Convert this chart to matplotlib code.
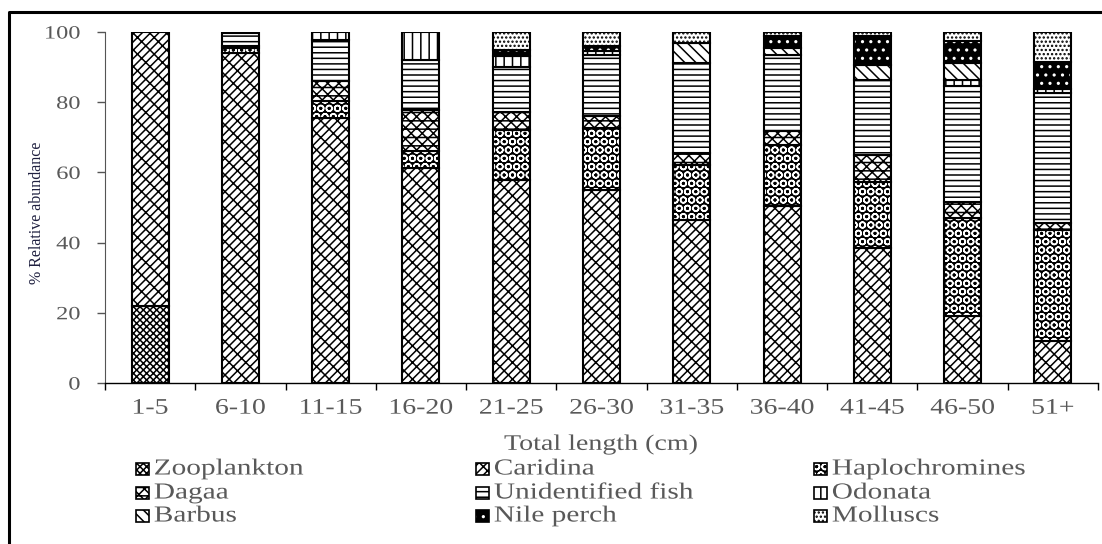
import numpy as np
import matplotlib
matplotlib.use("Agg")
import matplotlib.pyplot as plt
import matplotlib.patches as mpatches
from matplotlib.lines import Line2D
from matplotlib.patheffects import AbstractPathEffect
from matplotlib.transforms import Affine2D

# ---- data (% relative abundance) ----
lengths = ["1-5", "6-10", "11-15", "16-20", "21-25", "26-30",
           "31-35", "36-40", "41-45", "46-50", "51+"]

zooplankton    = [22.0, 0, 0, 0, 0, 0, 0, 0, 0, 0, 0]
caridina       = [78.0, 94.0, 75.5, 61.3, 57.9, 55.1, 46.5, 50.3, 38.5, 19.0, 11.9]
haplochromines = [0, 1.5, 4.7, 4.7, 14.3, 17.5, 15.7, 17.6, 18.9, 28.0, 31.8]
dagaa          = [0, 0.5, 5.7, 11.9, 4.9, 3.4, 3.3, 3.8, 7.6, 4.7, 1.9]
unidentified   = [0, 3.7, 11.9, 14.2, 12.9, 17.5, 25.7, 21.8, 21.4, 32.8, 36.9]
odonata        = [0, 0, 2.2, 7.9, 3.3, 1.2, 0, 0, 0, 1.9, 1.4]
barbus         = [0, 0, 0, 0, 0, 0, 5.7, 1.9, 4.3, 4.8, 0]
nile_perch     = [0, 0, 0, 0, 1.5, 1.2, 0, 3.4, 8.1, 6.1, 7.6]
molluscs       = [0, 0, 0, 0, 5.2, 4.1, 3.1, 1.2, 1.2, 2.7, 8.5]

species = ["Zooplankton", "Caridina", "Haplochromines", "Dagaa",
           "Unidentified fish", "Odonata", "Barbus", "Nile perch", "Molluscs"]
series = [zooplankton, caridina, haplochromines, dagaa, unidentified,
          odonata, barbus, nile_perch, molluscs]

# face colour, hatch colour, hatch
styles = [("white", "black", "xxxxx"),
          ("white", "black", "////\\\\"),
          ("black", "white", "OO"),
          ("white", "black", "--xxx"),
          ("white", "black", "---"),
          ("white", "black", "||"),
          ("white", "black", "\\\\\\"),
          ("black", "white", ".."),
          ("white", "black", "....")]


# the original is stretched sideways, so widen the glyphs a bit
class Wide(AbstractPathEffect):
    def __init__(self, sx=1.28, anchor="center"):
        super().__init__()
        self.sx = sx
        self.anchor = anchor

    def draw_path(self, renderer, gc, tpath, affine, rgbFace=None):
        ext = tpath.get_extents(affine)
        x0 = {"left": ext.x0, "center": (ext.x0 + ext.x1) / 2,
              "right": ext.x1}[self.anchor]
        t = affine + Affine2D().translate(-x0, 0).scale(self.sx, 1).translate(x0, 0)
        renderer.draw_path(gc, tpath, t, rgbFace)


plt.rcParams['font.family'] = ['Liberation Serif', 'DejaVu Serif']
plt.rcParams['hatch.linewidth'] = 1.1

W, H = 1102, 544
def fx(px):
    return px / W
def fy(py):
    return 1 - py / H

fig = plt.figure(figsize=(W / 100, H / 100), dpi=100)
ax = fig.add_axes([fx(105), fy(383), fx(1098) - fx(105), fy(32) - fy(383)])

x = np.arange(len(lengths))
bottom = np.zeros(len(lengths))
for vals, (fc, hc, h) in zip(series, styles):
    vals = np.array(vals)
    m = vals > 0
    ax.bar(x[m], vals[m], 0.41, bottom=bottom[m], color=fc, edgecolor=hc,
           hatch=h, linewidth=0)
    ax.bar(x[m], vals[m], 0.41, bottom=bottom[m], fill=False,
           edgecolor="black", linewidth=1.5)
    bottom += vals

ax.set_xlim(-0.5, len(lengths) - 0.5)
ax.set_ylim(0, 100)
ax.spines["top"].set_visible(False)
ax.spines["right"].set_visible(False)
ax.spines["left"].set_color("#555555")
ax.spines["bottom"].set_linewidth(1.0)

ax.set_xticks(np.arange(-0.5, len(lengths), 1))
ax.set_xticklabels([])
ax.tick_params(axis="x", which="major", length=5, width=1, direction="out")
ax.set_xticks(x, minor=True)
ax.set_xticklabels(lengths, minor=True)
ax.tick_params(axis="x", which="minor", length=0, pad=12,
               labelsize=16, labelcolor="#595959")
ax.set_yticks(np.arange(0, 101, 20))
ax.tick_params(axis="y", length=5.8, width=1, color="#555555", pad=12,
               labelsize=13.5, labelcolor="#595959")
for lab in ax.get_xticklabels(minor=True):
    lab.set_path_effects([Wide(1.25, "center")])
for lab in ax.get_yticklabels():
    lab.set_path_effects([Wide(1.3, "right")])

fig.text(fx(37), fy(213), "% Relative abundance", rotation=90,
         ha="center", va="center", fontsize=11.5, color="#1f2040")
fig.text(fx(601), fy(445), "Total length (cm)", ha="center", va="center",
         fontsize=16, color="#595959", path_effects=[Wide(1.26, "center")])

# legend, three columns filled row by row
col_x = [136, 476, 814]
row_y = [469, 493, 516]
for i, (name, (fc, hc, h)) in enumerate(zip(species, styles)):
    cx = col_x[i % 3]
    cy = row_y[i // 3]
    r = mpatches.Rectangle((fx(cx), fy(cy + 6)), fx(13), 12 / H,
                           transform=fig.transFigure, facecolor=fc,
                           edgecolor=hc, hatch=h, linewidth=0)
    fig.add_artist(r)
    fig.add_artist(mpatches.Rectangle((fx(cx), fy(cy + 6)), fx(13), 12 / H,
                                      transform=fig.transFigure, fill=False,
                                      edgecolor="black", linewidth=1.2))
    fig.text(fx(cx + 18), fy(cy), name, ha="left", va="center", fontsize=16.5,
             color="#595959", path_effects=[Wide(1.28, "left")])

# outer frame (only top and left edges fall inside the picture)
fig.add_artist(Line2D([fx(9), fx(9), 1.01], [-0.01, fy(12), fy(12)],
                      transform=fig.transFigure, color="black", linewidth=2.2))

fig.savefig("out.png", dpi=100)
